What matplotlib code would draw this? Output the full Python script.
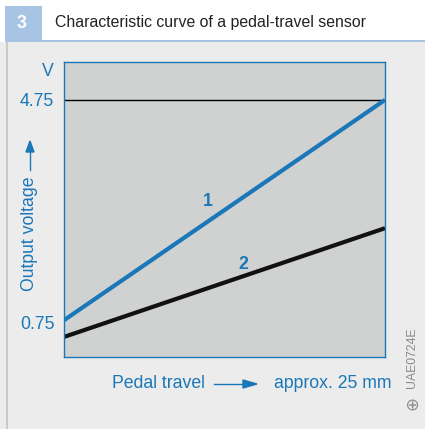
import matplotlib.pyplot as plt
from matplotlib.patches import Rectangle

plt.rcParams['font.family'] = ['Liberation Sans', 'DejaVu Sans']

# data
travel = [0, 25]
curve1 = [0.80, 4.75]
curve2 = [0.50, 2.45]
yticks = [0.75, 4.75]
ytick_labels = ['0.75', '4.75']

W, H = 425, 429
blue = '#1a77b8'
fs = 12.7

fig = plt.figure(figsize=(W / 100, H / 100), dpi=100, facecolor='white')

def box(x0, y0, x1, y1, **kw):
    # rectangle in pixel coords (y from top)
    fig.patches.append(Rectangle((x0 / W, 1 - y1 / H), (x1 - x0) / W, (y1 - y0) / H,
                                 transform=fig.transFigure, zorder=-5, **kw))

# header and background
box(0, 42, W, H, color='#ececec', lw=0)
box(6, 42, 8, H, color='#c9c9c9', lw=0)
box(5, 6, W, 42, color='#a7c4e4', lw=0)
box(42, 6, W, 40, color='white', lw=0)
fig.text(22 / W, 1 - 24 / H, '3', color='white', fontsize=13, fontweight='bold',
         ha='center', va='center')
fig.text(55 / W, 1 - 23 / H, 'Characteristic curve of a pedal-travel sensor',
         color='#222222', fontsize=11.4, va='center')

ax = fig.add_axes([64 / W, (H - 357) / H, 321 / W, 295 / H])
ax.set_zorder(5)
ax.set_facecolor('#d0d2d1')
ax.plot(travel, [4.75, 4.75], color='black', lw=1)
ax.plot(travel, curve1, color=blue, lw=3, solid_capstyle='butt')
ax.plot(travel, curve2, color='#111111', lw=3, solid_capstyle='butt')
ax.set_xlim(0, 25)
ax.set_ylim(0.14, 5.43)
for s in ax.spines.values():
    s.set_color(blue)
    s.set_linewidth(1.0)
ax.set_xticks([])
ax.set_yticks(yticks)
ax.set_yticklabels(ytick_labels)
ax.tick_params(axis='y', length=0, pad=7, labelcolor=blue, labelsize=fs)

ax.text(11.2, 2.93, '1', color=blue, fontsize=fs, fontweight='bold', ha='center', va='center')
ax.text(14.0, 1.80, '2', color=blue, fontsize=fs, fontweight='bold', ha='center', va='center')

# axis labels
fig.text(48 / W, 1 - 71 / H, 'V', color=blue, fontsize=fs, ha='center', va='center')
fig.text(30 / W, 1 - 234 / H, 'Output voltage', color=blue, fontsize=fs,
         rotation=90, ha='center', va='center')
fig.add_artist(plt.Line2D([30 / W, 30 / W], [1 - 170 / H, 1 - 150 / H],
                          color=blue, lw=1, transform=fig.transFigure))
fig.patches.append(plt.Polygon([[26 / W, 1 - 152 / H], [34 / W, 1 - 152 / H], [30 / W, 1 - 141 / H]],
                               closed=True, color=blue, transform=fig.transFigure))

fig.text(112 / W, 1 - 383 / H, 'Pedal travel', color=blue, fontsize=fs, va='center')
fig.add_artist(plt.Line2D([214 / W, 245 / W], [1 - 384 / H, 1 - 384 / H],
                          color=blue, lw=1, transform=fig.transFigure))
fig.patches.append(plt.Polygon([[243 / W, 1 - 380 / H], [243 / W, 1 - 388 / H], [257 / W, 1 - 384 / H]],
                               closed=True, color=blue, transform=fig.transFigure))
fig.text(392 / W, 1 - 383 / H, 'approx. 25 mm', color=blue, fontsize=fs, va='center', ha='right')

fig.text(412 / W, 1 - 358 / H, 'UAE0724E', color='#8a8a8a', fontsize=8.8, rotation=90,
         ha='center', va='center')
fig.text(412 / W, 1 - 403 / H, '⊕', color='#8a8a8a', fontsize=12, rotation=90,
         ha='center', va='center', family=['DejaVu Sans'])

fig.savefig('out.png', dpi=100, facecolor=fig.get_facecolor())
